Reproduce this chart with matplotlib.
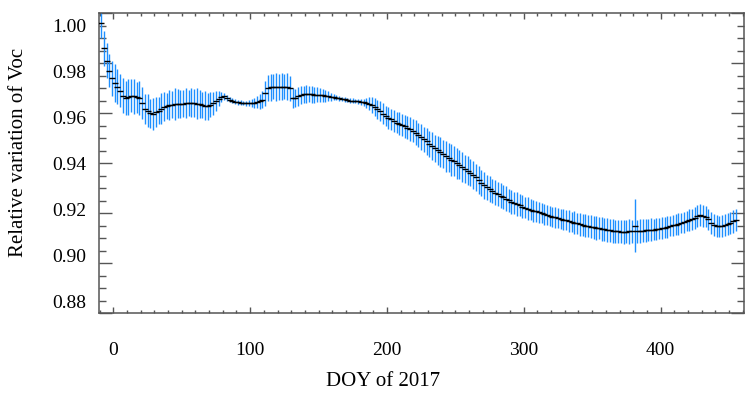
import numpy as np
import matplotlib
matplotlib.use("Agg")
import matplotlib.pyplot as plt
import matplotlib.transforms as mtransforms
from matplotlib.ticker import MultipleLocator, FixedLocator, FixedFormatter

# ---------------- data ----------------
doy = list(range(-9, 456, 2))

voc = [
    0.996, 0.986, 0.981, 0.977, 0.974, 0.972, 0.9705, 0.969, 0.967, 0.966,
    0.9665, 0.967, 0.9668, 0.9664, 0.966, 0.964, 0.9615, 0.961, 0.9600, 0.9598,
    0.9604, 0.9610, 0.9618, 0.9625, 0.9629, 0.9631, 0.9634, 0.9636, 0.9637, 0.9636,
    0.9638, 0.9640, 0.9639, 0.9641, 0.9640, 0.9638, 0.9635, 0.9632, 0.9629, 0.9628,
    0.9633, 0.9640, 0.9648, 0.9657, 0.9665, 0.9667, 0.9660, 0.9654, 0.9650, 0.9646,
    0.9643, 0.9641, 0.9640, 0.9640, 0.9639, 0.9640, 0.9641, 0.9643, 0.9647, 0.9653,
    0.9680, 0.9700, 0.9703, 0.9705, 0.9705, 0.9706, 0.9706, 0.9705, 0.9705, 0.9700,
    0.9660, 0.9662, 0.9668, 0.9672, 0.9675, 0.9676, 0.9676, 0.9675, 0.9674, 0.9673,
    0.9672, 0.9671, 0.9669, 0.9667, 0.9665, 0.9663, 0.9661, 0.9659, 0.9657, 0.9655,
    0.9652, 0.9650, 0.9649, 0.9648, 0.9647, 0.9645, 0.9643, 0.9640, 0.9637, 0.9632,
    0.9624, 0.9616, 0.9607, 0.9598, 0.9590, 0.9582, 0.9575, 0.9568, 0.9562, 0.9557,
    0.9552, 0.9547, 0.9542, 0.9536, 0.9529, 0.9521, 0.9513, 0.9505, 0.9496, 0.9487,
    0.9478, 0.9469, 0.9460, 0.9451, 0.9443, 0.9435, 0.9428, 0.9421, 0.9414, 0.9407,
    0.9400, 0.9393, 0.9386, 0.9378, 0.9370, 0.9362, 0.9353, 0.9343, 0.9332, 0.9321,
    0.9312, 0.9304, 0.9296, 0.9289, 0.9282, 0.9276, 0.9270, 0.9264, 0.9258, 0.9252,
    0.9246, 0.9241, 0.9236, 0.9231, 0.9226, 0.9222, 0.9218, 0.9214, 0.9210, 0.9207,
    0.9203, 0.9199, 0.9196, 0.9192, 0.9189, 0.9186, 0.9183, 0.9180, 0.9177, 0.9174,
    0.9171, 0.9168, 0.9165, 0.9162, 0.9159, 0.9156, 0.9153, 0.9150, 0.9148, 0.9145,
    0.9143, 0.9141, 0.9139, 0.9137, 0.9135, 0.9133, 0.9131, 0.9130, 0.9128, 0.9127,
    0.9126, 0.9126, 0.9126, 0.9127, 0.9127, 0.9150, 0.9128, 0.9129, 0.9130, 0.9131,
    0.9132, 0.9133, 0.9134, 0.9136, 0.9138, 0.9140, 0.9142, 0.9145, 0.9148, 0.9151,
    0.9154, 0.9157, 0.9160, 0.9164, 0.9168, 0.9172, 0.9176, 0.9182, 0.9188, 0.9192,
    0.9190, 0.9186, 0.9176, 0.9162, 0.9152, 0.9149, 0.9148, 0.9149, 0.9152, 0.9156,
    0.9162, 0.9168, 0.9172,
]

voc_err = [
    0.0060, 0.0070, 0.0070, 0.0065, 0.0070, 0.0075, 0.0070, 0.0065, 0.0070, 0.0068,
    0.0072, 0.0065, 0.0070, 0.0062, 0.0068, 0.0065, 0.0060, 0.0066, 0.0058, 0.0064,
    0.0060, 0.0055, 0.0062, 0.0058, 0.0052, 0.0060, 0.0055, 0.0064, 0.0058, 0.0056,
    0.0054, 0.0060, 0.0052, 0.0058, 0.0055, 0.0062, 0.0056, 0.0052, 0.0058, 0.0054,
    0.0050, 0.0046, 0.0040, 0.0030, 0.0020, 0.0015, 0.0012, 0.0010, 0.0010, 0.0009,
    0.0009, 0.0010, 0.0009, 0.0010, 0.0012, 0.0015, 0.0020, 0.0025, 0.0030, 0.0035,
    0.0050, 0.0052, 0.0055, 0.0050, 0.0056, 0.0052, 0.0055, 0.0050, 0.0054, 0.0050,
    0.0040, 0.0036, 0.0038, 0.0035, 0.0034, 0.0036, 0.0033, 0.0035, 0.0032, 0.0030,
    0.0028, 0.0026, 0.0024, 0.0020, 0.0016, 0.0012, 0.0010, 0.0009, 0.0009, 0.0009,
    0.0009, 0.0009, 0.0010, 0.0009, 0.0010, 0.0012, 0.0015, 0.0020, 0.0026, 0.0032,
    0.0036, 0.0038, 0.0040, 0.0042, 0.0040, 0.0044, 0.0042, 0.0045, 0.0043, 0.0046,
    0.0044, 0.0047, 0.0045, 0.0048, 0.0046, 0.0050, 0.0048, 0.0052, 0.0050, 0.0054,
    0.0052, 0.0056, 0.0054, 0.0058, 0.0060, 0.0056, 0.0062, 0.0058, 0.0064, 0.0060,
    0.0062, 0.0058, 0.0060, 0.0056, 0.0058, 0.0055, 0.0057, 0.0054, 0.0056, 0.0052,
    0.0054, 0.0050, 0.0052, 0.0049, 0.0051, 0.0048, 0.0050, 0.0047, 0.0049, 0.0046,
    0.0048, 0.0045, 0.0047, 0.0044, 0.0046, 0.0043, 0.0045, 0.0042, 0.0044, 0.0041,
    0.0043, 0.0040, 0.0042, 0.0039, 0.0041, 0.0040, 0.0042, 0.0039, 0.0041, 0.0043,
    0.0040, 0.0044, 0.0041, 0.0045, 0.0042, 0.0046, 0.0043, 0.0047, 0.0044, 0.0046,
    0.0045, 0.0047, 0.0044, 0.0048, 0.0046, 0.0049, 0.0045, 0.0048, 0.0046, 0.0047,
    0.0045, 0.0048, 0.0046, 0.0049, 0.0047, 0.0105, 0.0046, 0.0048, 0.0045, 0.0047,
    0.0044, 0.0046, 0.0043, 0.0045, 0.0042, 0.0044, 0.0041, 0.0043, 0.0040, 0.0042,
    0.0041, 0.0043, 0.0040, 0.0042, 0.0041, 0.0043, 0.0042, 0.0044, 0.0043, 0.0045,
    0.0044, 0.0043, 0.0042, 0.0044, 0.0043, 0.0045, 0.0042, 0.0044, 0.0043, 0.0045,
    0.0044, 0.0046, 0.0045,
]

x_ticks = [0, 100, 200, 300, 400]
y_ticks = [0.88, 0.90, 0.92, 0.94, 0.96, 0.98, 1.00]
y_tick_labels = ["0.88", "0.90", "0.92", "0.94", "0.96", "0.98", "1.00"]

# ---------------- figure ----------------
plt.rcParams['font.family'] = ['Liberation Serif', 'DejaVu Serif']

W, H = 745, 393
fig = plt.figure(figsize=(W / 100, H / 100), dpi=100)
ax = fig.add_axes([99 / W, 1 - 313 / H, (744 - 99) / W, 300 / H])

ax.errorbar(doy, voc, yerr=voc_err, fmt='none', ecolor='#1E8FFF',
            elinewidth=1.0, capsize=0, zorder=2)
ax.plot(doy, voc, linestyle='none', marker='_', markersize=5,
        markeredgewidth=1.0, color='black', zorder=3)

ax.set_xlim(-10.5, 461)
ax.set_ylim(0.88, 1.00)

ax.xaxis.set_major_locator(FixedLocator(x_ticks))
ax.xaxis.set_minor_locator(MultipleLocator(10))
ax.yaxis.set_major_locator(FixedLocator(y_ticks))
ax.yaxis.set_major_formatter(FixedFormatter(y_tick_labels))
ax.yaxis.set_minor_locator(MultipleLocator(0.005))

spine_col = '#555555'
for s in ax.spines.values():
    s.set_color(spine_col)
    s.set_linewidth(1.1)

ax.tick_params(axis='both', which='both', direction='in', top=True, right=True,
               color=spine_col, width=1.0, labelsize=14)
ax.tick_params(axis='x', which='major', length=4.5, pad=21)
ax.tick_params(axis='x', which='minor', length=2.3)
ax.tick_params(axis='y', which='major', length=9.5, pad=9)
ax.tick_params(axis='y', which='minor', length=5)

# y tick labels in the reference are slightly compressed toward the middle
fig.canvas.draw()
n = len(y_ticks)
for i, lab in enumerate(ax.get_yticklabels()):
    k = i - (n - 1) / 2.0          # -3 .. 3
    dy_px = 4.0 * k                # move toward the centre
    off = mtransforms.ScaledTranslation(0, -dy_px / 100.0, fig.dpi_scale_trans)
    lab.set_transform(lab.get_transform() + off)

ax.set_xlabel("DOY of 2017", fontsize=15)
ax.set_ylabel("Relative variation of Voc", fontsize=15)
ax.xaxis.set_label_coords(0.44, -0.195)
ax.yaxis.set_label_coords(-0.11, 0.535)

fig.savefig("out.png", dpi=100)
